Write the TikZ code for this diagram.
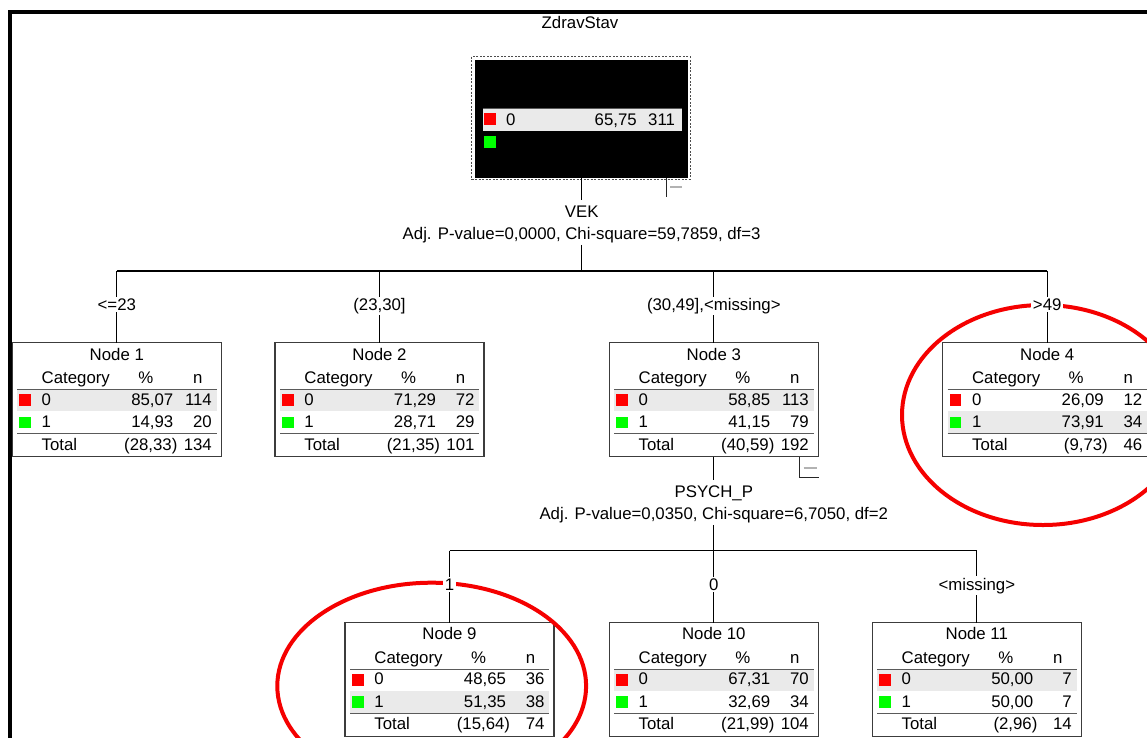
\documentclass[tikz,border=0pt]{standalone}
\usepackage{fontspec}
\setmainfont{Liberation Sans}
\usetikzlibrary{calc}
\definecolor{rowgray}{RGB}{234,234,234}
\definecolor{rulec}{RGB}{90,90,90}
\definecolor{boxc}{RGB}{60,60,60}
\definecolor{catred}{RGB}{255,0,0}
\definecolor{catgreen}{RGB}{0,255,0}
\definecolor{ringred}{RGB}{245,0,0}
\newcommand\fs{\fontsize{16.8}{19}\selectfont}
\tikzset{
  txt/.style={font=\fs, inner sep=0pt, outer sep=0pt},
  lbl/.style={font=\fs, fill=white, inner sep=1.5pt, anchor=base},
  box/.style={draw=boxc, line width=1.2pt, fill=white, minimum width=209pt, minimum height=114pt, inner sep=0pt, outer sep=0pt},
  rule/.style={draw=rulec, line width=1.2pt},
  conn/.style={draw=black, line width=1.3pt},
  ring/.style={draw=ringred, line width=4pt},
  indic/.style={draw=black!85, line width=1pt},
  indicdash/.style={draw=black!30, line width=2pt},
}
\newcommand\tnode[9]{%
  \node[box, anchor=north] (n#1) at #2 {};
  \ifnum#3=0 \def\gy{46.6}\else\def\gy{68.6}\fi
  \begin{scope}[shift={(n#1.north west)}]
    \fill[rowgray] (5,\gy) rectangle ++(199.4,22);
    \draw[rule] (5,46.6) -- ++(199.4,0);
    \draw[rule] (5,90.6) -- ++(199.4,0);
    \fill[catred] (7,51.5) rectangle ++(11.5,11.5);
    \fill[catgreen] (7,73.8) rectangle ++(11.5,11.5);
    \node[txt, anchor=base] at (104.5,17.3) {Node #1};
    \node[txt, anchor=base west] at (29.4,40.6) {Category};
    \node[txt, anchor=base] at (133.5,40.6) {\%};
    \node[txt, anchor=base] at (185.5,40.6) {n};
    \node[txt, anchor=base west] at (29.4,62.3) {0};
    \node[txt, anchor=base west] at (29.4,84.6) {1};
    \node[txt, anchor=base west] at (29.4,107.3) {Total};
    \node[txt, anchor=base east] at (161,62.3) {#4};
    \node[txt, anchor=base east] at (161,84.6) {#6};
    \node[txt, anchor=base east] at (159.5,107.3) {(#8\rlap{)}};
    \node[txt, anchor=base east] at (199.5,62.3) {#5};
    \node[txt, anchor=base east] at (199.5,84.6) {#7};
    \node[txt, anchor=base east] at (199.5,107.3) {#9};
  \end{scope}}
\begin{document}
\begin{tikzpicture}[x=1pt,y=-1pt]
\useasboundingbox (0,0) rectangle (1147,737);
\clip (0,0) rectangle (1147,737);
\fill[white] (0,0) rectangle (1147,737);
% frame
\draw[line width=4pt] (10.3,760) -- (10.3,12) -- (1170,12);
% title
\node[txt, anchor=base] (title) at (580,28.5) {ZdravStav};
% root node
\node[fill=black, draw=none, anchor=north west, minimum width=213.3pt, minimum height=117.7pt, inner sep=0pt, outer sep=0pt] (root) at (475,60) {};
\draw[black!70, line width=1pt, dash pattern=on 2pt off 1.5pt] ($(root.north west)+(-3.3,-3.3)$) rectangle ($(root.south east)+(1.7,1.6)$);
\fill[rowgray] (482.7,108.3) rectangle (681.7,130.7);
\draw[rule] (482.7,108.3) -- (681.7,108.3);
\fill[catred] (484,113.3) rectangle ++(11.5,11.5);
\fill[catgreen] (484,136.2) rectangle ++(11.5,11.5);
\node[txt, anchor=base west] (r0) at (506,125) {0};
\node[txt, anchor=base east] (rp) at (636.7,125) {65,75};
\node[txt, anchor=base east] (rn) at (675,125) {311};
% split VEK
\node[txt, anchor=base, inner ysep=5.3pt] (vek) at (581.65,217.3) {VEK};
\node[txt, anchor=base, inner ysep=2.2pt] (vekstat) at (581.65,239.3) {Adj. P-value=0,0000, Chi-square=59,7859, df=3};
% level 1 nodes
\tnode{1}{(116.8,342.7)}{0}{85,07}{114}{14,93}{20}{28,33}{134}
\tnode{2}{(379.5,342.7)}{0}{71,29}{72}{28,71}{29}{21,35}{101}
\tnode{3}{(713.8,342.7)}{0}{58,85}{113}{41,15}{79}{40,59}{192}
\tnode{4}{(1047.2,342.7)}{1}{26,09}{12}{73,91}{34}{9,73}{46}
% split PSYCH_P
\node[txt, anchor=base, inner ysep=5.5pt] (psych) at (713.8,497.5) {PSYCH\_P};
\node[txt, anchor=base, inner ysep=2pt] (psychstat) at (713.8,519.5) {Adj. P-value=0,0350, Chi-square=6,7050, df=2};
% level 2 nodes
\tnode{9}{(449.5,622.5)}{1}{48,65}{36}{51,35}{38}{15,64}{74}
\tnode{10}{(713.8,622.5)}{0}{67,31}{70}{32,69}{34}{21,99}{104}
\tnode{11}{(976.8,622.5)}{0}{50,00}{7}{50,00}{7}{2,96}{14}
% bar coordinates
\coordinate (b0) at (581.65,271);
\coordinate (b1) at (116.8,271);
\coordinate (b2) at (379.5,271);
\coordinate (b3) at (713.8,271);
\coordinate (b4) at (1047.2,271);
\coordinate (c0) at (713.8,550.5);
\coordinate (c9) at (449.5,550.5);
\coordinate (c10) at (713.8,550.5);
\coordinate (c11) at (976.8,550.5);
% connectors
\draw[conn] (root.south) -- (vek.north);
\draw[conn] (vekstat.south) -- (b0);
\draw[conn] (b1) -- (b4);
\draw[conn] (b1) -- (n1.north);
\draw[conn] (b2) -- (n2.north);
\draw[conn] (b3) -- (n3.north);
\draw[conn] (b4) -- (n4.north);
\draw[conn] (n3.south) -- (psych.north);
\draw[conn] (psychstat.south) -- (c0);
\draw[conn] (c9) -- (c11);
\draw[conn] (c9) -- (n9.north);
\draw[conn] (c10) -- (n10.north);
\draw[conn] (c11) -- (n11.north);
% collapse indicators
\coordinate (i0a) at (666,178);
\coordinate (i0b) at (666,197);
\draw[indic] (i0a) -- (i0b);
\draw[indicdash] (670,187) -- (682,187);
\coordinate (i3a) at (799,456.7);
\coordinate (i3b) at (799,477);
\coordinate (i3c) at (818.5,477);
\draw[indic] (i3a) -- (i3b) -- (i3c);
\draw[indicdash] (803.5,467.7) -- (816.5,467.7);
% rings
\draw[ring] (1043,415) ellipse [x radius=141pt, y radius=110pt];
\draw[ring] (431.7,686) ellipse [x radius=154.4pt, y radius=103.3pt];
% edge labels
\node[lbl] (l1) at (116.8,310.5) {<=23};
\node[lbl] (l2) at (379.5,310.5) {(23,30]};
\node[lbl] (l3) at (713.8,310.5) {(30,49],<missing>};
\node[lbl] (l4) at (1047.2,310.5) {>49};
\node[lbl] (l9) at (449.5,590) {1};
\node[lbl] (l10) at (713.8,590) {0};
\node[lbl] (l11) at (976.8,590) {<missing>};
\end{tikzpicture}
\end{document}
